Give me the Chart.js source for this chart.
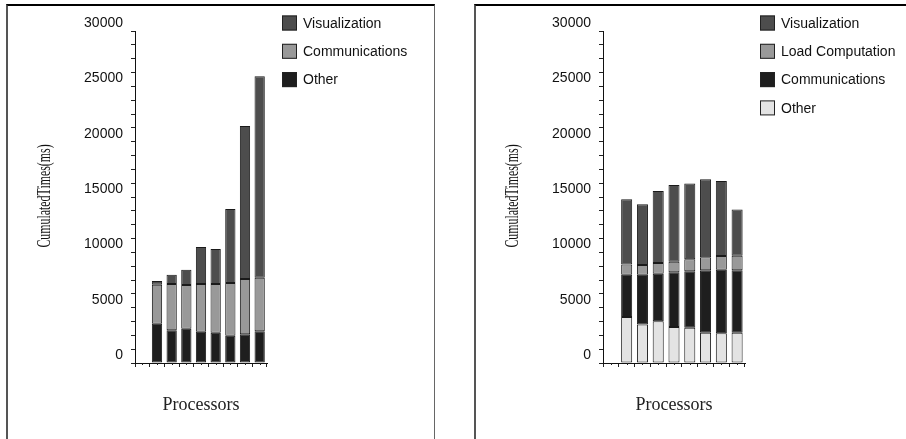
<!DOCTYPE html>
<html>
<head>
<meta charset="utf-8">
<script src="https://cdn.jsdelivr.net/npm/chart.js@4/dist/chart.umd.min.js"></script>
<style>
    html, body { margin: 0; padding: 0; background: #fff; overflow: hidden; }
    body { width: 906px; height: 439px; position: relative; }
    .panel { position: absolute; top: 4px; height: 470px; border-top: 2px solid #000; border-left: 2px solid #555; }
    #p1 { left: 6px; width: 426px; border-right: 1px solid #666; }
    #p2 { left: 474px; width: 460px; }
    canvas { position: absolute; top: 0; }
    #leftChart { left: 0; }
    #rightChart { left: 468px; }
</style>
</head>
<body>
<div class="panel" id="p1"></div>
<div class="panel" id="p2"></div>
<canvas id="leftChart" width="438" height="439"></canvas>
<canvas id="rightChart" width="438" height="439"></canvas>
<script>
// Categories (processor runs, no tick labels in the figure)
const processors = ['1', '2', '3', '4', '5', '6', '7', '8', '9'];

// Y axis: 0..30000, labels every 5000, small ticks every 1250
const yMax = 30000;
const yLabelStep = 5000;
const yTickStep = 1250;

// Left chart (ms)
const leftOther = [50, 3550, 2950, 3100, 2830, 2740, 2470, 2590, 2860];
const leftComm  = [0, 3530, 4190, 3950, 4310, 4400, 4760, 5000, 4850];
const leftVis   = [0, 330, 840, 1380, 3340, 3160, 6690, 13830, 18190];

// Right chart (ms)
const rightOther = [50, 4160, 3490, 3770, 3250, 3190, 2740, 2680, 2740];
const rightComm  = [0, 3820, 4490, 4300, 4940, 5090, 5630, 5750, 5630];
const rightLoad  = [0, 910, 880, 970, 970, 1090, 1180, 1240, 1330];
const rightVis   = [0, 5900, 5480, 6500, 6920, 6860, 7050, 6780, 4160];

const VIS = '#4d4d4d';
const MID = '#999999';
const DARK = '#1e1e1e';
const LIGHT = '#e3e3e3';

// condensed rotated y title, as in the original figure
const condensedTitle = {
    id: 'condensedTitle',
    afterDraw(chart, args, opts) {
        const ctx = chart.ctx;
        ctx.save();
        ctx.translate(opts.x, opts.y);
        ctx.rotate(-Math.PI / 2);
        ctx.scale(opts.squeeze, 1);
        ctx.font = '18px "Liberation Serif"';
        ctx.fillStyle = '#111';
        ctx.textAlign = 'center';
        ctx.textBaseline = 'middle';
        ctx.fillText(opts.text, 0, 0);
        ctx.restore();
    }
};

// legend to the right of the plot, top series first
const sideLegend = {
    id: 'sideLegend',
    afterDraw(chart) {
        const ctx = chart.ctx;
        const x0 = chart.chartArea.right + 15;
        const sets = [...chart.data.datasets].reverse();
        ctx.save();
        ctx.font = '14px "Liberation Sans"';
        ctx.textBaseline = 'middle';
        sets.forEach((ds, i) => {
            const cy = 23 + i * 28.3;
            ctx.fillStyle = ds.backgroundColor;
            ctx.fillRect(x0, cy - 7.5, 15, 15);
            ctx.strokeStyle = '#222';
            ctx.lineWidth = 1;
            ctx.strokeRect(x0 + 0.5, cy - 7, 14, 14);
            ctx.fillStyle = '#111';
            ctx.fillText(ds.label, x0 + 21, cy + 1);
        });
        ctx.restore();
    }
};

// short tick under each bar centre
const minorXTicks = {
    id: 'minorXTicks',
    afterDraw(chart) {
        const xs = chart.scales.x;
        const ctx = chart.ctx;
        ctx.save();
        ctx.strokeStyle = '#222';
        ctx.lineWidth = 1;
        processors.forEach((p, i) => {
            const x = Math.round(xs.getPixelForValue(i)) + 0.5;
            ctx.beginPath();
            ctx.moveTo(x, xs.top);
            ctx.lineTo(x, xs.top + 2);
            ctx.stroke();
        });
        // axis line runs a little past the y axis, like the original
        ctx.beginPath();
        ctx.moveTo(xs.left - 4, Math.round(xs.top) + 0.5);
        ctx.lineTo(xs.left, Math.round(xs.top) + 0.5);
        ctx.stroke();
        ctx.restore();
    }
};

function makeDataset(label, data, color) {
    return {
        label,
        data,
        backgroundColor: color,
        borderColor: '#1a1a1a',
        borderWidth: 1,
        borderSkipped: false,
        barPercentage: 0.7,
        categoryPercentage: 1.0
    };
}

function makeChart(id, datasets, padRight) {
    const ctx = document.getElementById(id).getContext('2d');
    return new Chart(ctx, {
        type: 'bar',
        data: { labels: processors, datasets },
        plugins: [condensedTitle, sideLegend, minorXTicks],
        options: {
            responsive: false,
            animation: false,
            layout: { padding: { top: 31, left: 0, right: padRight, bottom: 23 } },
            plugins: {
                legend: { display: false },
                tooltip: { enabled: false },
                condensedTitle: { text: 'CumulatedTimes(ms)', x: 45, y: 196, squeeze: 0.66 }
            },
            scales: {
                x: {
                    stacked: true,
                    afterFit: (s) => { s.height = 53; },
                    grid: { offset: true, drawOnChartArea: false, drawTicks: true, tickLength: 4, color: '#222' },
                    border: { display: true, color: '#111', width: 1 },
                    ticks: { display: false },
                    title: {
                        display: true,
                        text: 'Processors',
                        color: '#222',
                        font: { family: 'Liberation Serif', size: 18 },
                        padding: 0
                    }
                },
                y: {
                    stacked: true,
                    min: 0,
                    max: yMax,
                    afterFit: (s) => { s.width = 135; },
                    grid: { drawOnChartArea: false, drawTicks: true, tickLength: 4, color: '#222' },
                    border: { display: true, color: '#111', width: 1 },
                    ticks: {
                        stepSize: yTickStep,
                        autoSkip: false,
                        padding: 8,
                        labelOffset: -8,
                        color: '#111',
                        font: { family: 'Liberation Sans', size: 14 },
                        callback: (v) => (v % yLabelStep === 0 ? v : '')
                    }
                }
            }
        }
    });
}

makeChart('leftChart', [
    makeDataset('Other', leftOther, DARK),
    makeDataset('Communications', leftComm, MID),
    makeDataset('Visualization', leftVis, VIS)
], 171);

makeChart('rightChart', [
    makeDataset('Other', rightOther, LIGHT),
    makeDataset('Communications', rightComm, DARK),
    makeDataset('Load Computation', rightLoad, MID),
    makeDataset('Visualization', rightVis, VIS)
], 161);
</script>
</body>
</html>
